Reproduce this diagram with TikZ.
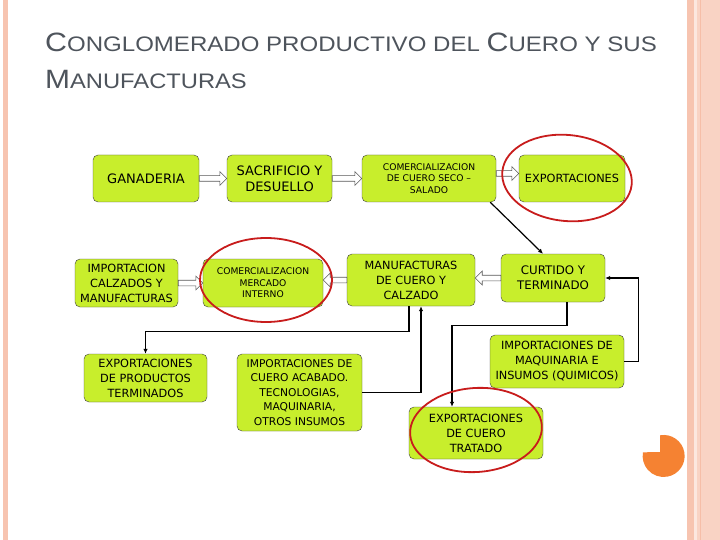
\documentclass[tikz,border=0pt]{standalone}
\usepackage{fontspec}
\setmainfont{DejaVu Sans}
\newfontfamily\titlefont{Liberation Sans}
\usetikzlibrary{calc,arrows.meta}

\definecolor{boxgreen}{RGB}{200,238,44}
\definecolor{titlegray}{RGB}{78,84,92}
\definecolor{ringred}{RGB}{200,28,28}
\definecolor{edgepink}{RGB}{247,196,176}
\definecolor{dotorange}{RGB}{245,130,50}

\tikzset{
    box/.style={draw=black!75, fill=boxgreen, rounded corners=5pt,
        align=center, inner sep=1pt, font=\fontsize{11.3}{15}\selectfont},
    bigbox/.style={box, font=\fontsize{13}{16}\selectfont},
    thinbox/.style={box, font=\fontsize{9.2}{11.5}\selectfont},
    conn/.style={line width=1.2pt, -{Latex[length=5pt,width=4.5pt]}},
    ring/.style={draw=ringred, line width=1.8pt},
    hollowr/.style={draw=gray!70!black, fill=white, line width=0.6pt,
        to path={let \p1=(\tikztostart), \p2=(\tikztotarget) in
            (\x1,\y1+2.8pt) -- (\x2-7pt,\y1+2.8pt) -- (\x2-7pt,\y1+7pt) -- (\x2,\y1)
            -- (\x2-7pt,\y1-7pt) -- (\x2-7pt,\y1-2.8pt) -- (\x1,\y1-2.8pt) -- cycle}},
    hollowl/.style={draw=gray!70!black, fill=white, line width=0.6pt,
        to path={let \p1=(\tikztostart), \p2=(\tikztotarget) in
            (\x1,\y1+2.8pt) -- (\x2+7pt,\y1+2.8pt) -- (\x2+7pt,\y1+7pt) -- (\x2,\y1)
            -- (\x2+7pt,\y1-7pt) -- (\x2+7pt,\y1-2.8pt) -- (\x1,\y1-2.8pt) -- cycle}}
}

\begin{document}
\begin{tikzpicture}[x=1pt, y=-1pt]

        \useasboundingbox (0,0) rectangle (720,540);
        \fill[white] (0,0) rectangle (720,540);

        % Page edges.
        \fill[edgepink] (3,0) rectangle (8,540);
        \fill[edgepink!75] (687,0) rectangle (720,540);
        \fill[edgepink] (687,0) rectangle (694,540);
        \fill[white!60!edgepink] (694,0) rectangle (697,540);
        \fill[edgepink!110] (699.5,0) rectangle (701,540);
        \fill[dotorange] (660,452) -- (660,435.3) arc[start angle=100, end angle=-190, radius=21pt] -- cycle;

        % Title, two lines.
        \node[anchor=base west, inner sep=0, text=titlegray, font=\titlefont] at (45,52) (title1)
            {\scalebox{1.145}[1]{\fontsize{26.5}{30}\selectfont C\fontsize{21}{30}\selectfont ONGLOMERADO PRODUCTIVO DEL
             \fontsize{26.5}{30}\selectfont C\fontsize{21}{30}\selectfont UERO Y SUS}};
        \node[anchor=base west, inner sep=0, text=titlegray, font=\titlefont] at (45,89) (title2)
            {\scalebox{1.13}[1]{\fontsize{26.5}{30}\selectfont M\fontsize{21}{30}\selectfont ANUFACTURAS}};

        % First row.
        \node[bigbox, minimum width=106pt, minimum height=47pt] at (146,178.5) (gan) {GANADERIA};
        \node[bigbox, minimum width=105pt, minimum height=47pt] at (279.5,178.5) (sac) {SACRIFICIO Y\\DESUELLO};
        \node[thinbox, minimum width=134pt, minimum height=47pt] at (429,178.5) (comseco) {COMERCIALIZACION\\DE CUERO SECO --\\SALADO};
        \node[box, minimum width=106pt, minimum height=47pt] at (572,178.5) (expo) {EXPORTACIONES};

        % Second row.
        \node[box, minimum width=103pt, minimum height=48pt] at (126.5,283) (impcal) {IMPORTACION\\CALZADOS Y\\MANUFACTURAS};
        \node[thinbox, minimum width=120pt, minimum height=48pt] at (263,283) (commer) {COMERCIALIZACION\\MERCADO\\INTERNO};
        \node[box, minimum width=128pt, minimum height=52pt] at (411,280) (manuf) {MANUFACTURAS\\DE CUERO Y\\CALZADO};
        \node[box, minimum width=104pt, minimum height=48pt, font=\fontsize{11.8}{15}\selectfont] at (553,278) (curt) {CURTIDO Y\\TERMINADO};

        % Lower boxes.
        \node[box, minimum width=123pt, minimum height=48pt] at (145.5,378) (expprod) {EXPORTACIONES\\DE PRODUCTOS\\TERMINADOS};
        \node[box, minimum width=125pt, minimum height=77pt, font=\fontsize{10.7}{14.5}\selectfont] at (299.5,392.5) (impcue) {IMPORTACIONES DE\\CUERO ACABADO.\\TECNOLOGIAS,\\MAQUINARIA,\\OTROS INSUMOS};
        \node[box, minimum width=134pt, minimum height=53pt] at (557,361.5) (impmaq) {IMPORTACIONES DE\\MAQUINARIA E\\INSUMOS (QUIMICOS)};
        \node[box, minimum width=134pt, minimum height=52pt] at (476,433) (expcue) {EXPORTACIONES\\DE CUERO\\TRATADO};

        % Hollow arrows.
        \path[hollowr] (gan.east) to (sac.west);
        \path[hollowr] (sac.east) to (comseco.west);
        \path[hollowr] ([yshift=5pt]comseco.east) to (expo.west);
        \path[hollowr] (impcal.east) to (commer.west);
        \path[hollowl] (manuf.west) to (commer.east);
        \path[hollowl] (curt.west) to (manuf.east);

        % Black connectors.
        \draw[conn] ([xshift=-6pt]comseco.south east) -- ([xshift=-10pt]curt.north);
        \draw[conn] ([xshift=-2pt]manuf.south) -- ++(0,25) -| (expprod.north);
        \draw[conn] (impcue.east) -| ([xshift=10pt]manuf.south);
        \draw[conn] ([xshift=14pt]curt.south) -- ++(0,23) -| ([xshift=-24pt]expcue.north);
        \draw[conn] (impmaq.east) -- ++(14,0) |- (curt.east);

        % Red rings.
        \draw[ring, rotate around={-6:(567,178)}] (567,178) ellipse [x radius=65pt, y radius=43pt];
        \draw[ring] (266,280) ellipse [x radius=66pt, y radius=42pt];
        \draw[ring, rotate around={4:(476,430)}] (476,430) ellipse [x radius=66pt, y radius=42pt];
    \end{tikzpicture}
\end{document}
